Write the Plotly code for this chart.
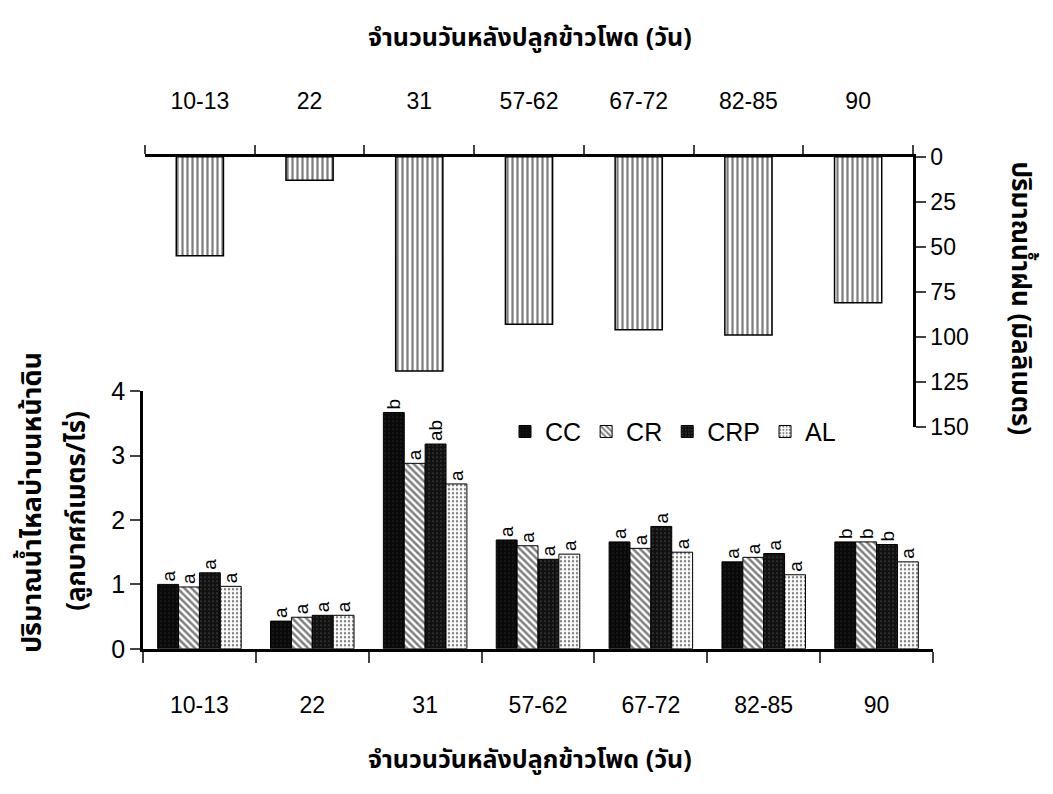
import plotly.graph_objects as go

categories = ["10-13", "22", "31", "57-62", "67-72", "82-85", "90"]
rain_mm = [55, 13, 119, 93, 96, 99, 81]
series_names = ["CC", "CR", "CRP", "AL"]
cc = [1.00, 0.43, 3.67, 1.69, 1.66, 1.35, 1.66]
cr = [0.96, 0.49, 2.88, 1.60, 1.56, 1.42, 1.66]
crp = [1.18, 0.52, 3.18, 1.39, 1.90, 1.48, 1.62]
al = [0.97, 0.52, 2.56, 1.47, 1.50, 1.15, 1.35]
letters_cc = ["a", "a", "b", "a", "a", "a", "b"]
letters_cr = ["a", "a", "a", "a", "a", "a", "b"]
letters_crp = ["a", "a", "ab", "a", "a", "a", "b"]
letters_al = ["a", "a", "a", "a", "a", "a", "a"]

W, H = 1053, 794
FONT = "Liberation Sans, Arial, sans-serif"
THAI = "Noto Sans Thai, Noto Sans, Liberation Sans, sans-serif"

def px(x):
    return x / W

def py(y):
    return 1 - y / H

fig = go.Figure()

# top rainfall bars
fig.add_trace(go.Bar(
    x=categories, y=rain_mm, xaxis="x2", yaxis="y2", width=0.43,
    marker=dict(color="white", line=dict(color="black", width=1.5),
                pattern=dict(shape="|", fgcolor="black", bgcolor="white", size=5, solidity=0.45)),
    showlegend=False,
))

styles = [
    dict(color="#0a0a0a", line=dict(color="black", width=1),
         pattern=dict(shape=".", fgcolor="#3a3a3a", bgcolor="#0a0a0a", size=4, solidity=0.15)),
    dict(color="white", line=dict(color="black", width=1),
         pattern=dict(shape="\\", fgcolor="black", bgcolor="white", size=5, solidity=0.5)),
    dict(color="#111111", line=dict(color="black", width=1),
         pattern=dict(shape=".", fgcolor="#555555", bgcolor="#111111", size=4, solidity=0.2)),
    dict(color="white", line=dict(color="black", width=1),
         pattern=dict(shape=".", fgcolor="black", bgcolor="white", size=4, solidity=0.3)),
]
vals = [cc, cr, crp, al]
lets = [letters_cc, letters_cr, letters_crp, letters_al]
for name, v, l, st in zip(series_names, vals, lets, styles):
    fig.add_trace(go.Bar(
        x=categories, y=v, name=name, marker=st,
        text=l, textposition="outside", textangle=-90,
        textfont=dict(family=FONT, size=19, color="black"),
        cliponaxis=False,
    ))

fig.update_layout(
    width=W, height=H, margin=dict(l=0, r=0, t=0, b=0),
    paper_bgcolor="white", plot_bgcolor="rgba(0,0,0,0)",
    barmode="group", bargap=0.26, bargroupgap=0,
    font=dict(family=FONT, size=23, color="black"),
    showlegend=True,
    legend=dict(orientation="h", x=px(505), y=py(433), xanchor="left", yanchor="middle",
                font=dict(family=FONT, size=25), bgcolor="rgba(0,0,0,0)",
                itemwidth=30, traceorder="normal"),
    xaxis=dict(domain=[px(143), px(933)], anchor="y", type="category",
               tickson="boundaries", ticks="outside", ticklen=11, tickwidth=2,
               showline=True, linecolor="black", linewidth=2.5, showgrid=False,
               ticklabelstandoff=34, tickfont=dict(size=23)),
    yaxis=dict(domain=[py(658), py(391)], anchor="x", range=[0, 4],
               tickvals=[0, 1, 2, 3, 4], ticks="outside", ticklen=10, tickwidth=2,
               showline=True, linecolor="black", linewidth=2.5, showgrid=False, zeroline=False,
               tickfont=dict(size=25)),
    xaxis2=dict(domain=[px(145), px(913)], anchor="y2", type="category", side="top",
                tickson="boundaries", ticks="outside", ticklen=9, tickwidth=2,
                showline=True, linecolor="black", linewidth=2.5, showgrid=False,
                ticklabelstandoff=36, tickfont=dict(size=23)),
    yaxis2=dict(domain=[py(428), py(148)], anchor="x2", side="right", range=[150, 0],
                tickvals=[0, 25, 50, 75, 100, 125, 150], ticks="outside", ticklen=10, tickwidth=2,
                showline=True, linecolor="black", linewidth=2.5, showgrid=False, zeroline=False,
                tickfont=dict(size=23)),
)

ann = [
    dict(text="<b>จำนวนวันหลังปลูกข้าวโพด (วัน)</b>", x=px(530), y=py(25), size=25),
    dict(text="<b>จำนวนวันหลังปลูกข้าวโพด (วัน)</b>", x=px(530), y=py(773), size=25),
    dict(text="<b>ปริมาณน้ำไหลบ่าบนหน้าดิน</b>", x=px(32), y=py(507), textangle=-90, size=27),
    dict(text="<b>(ลูกบาศก์เมตร/ไร่)</b>", x=px(77), y=py(515), textangle=-90, size=26),
    dict(text="<b>ปริมาณน้ำฝน (มิลลิเมตร)</b>", x=px(1020), y=py(295), textangle=90, size=26),
]
for a in ann:
    size = a.pop("size")
    fig.add_annotation(xref="paper", yref="paper", showarrow=False,
                       xanchor="center", yanchor="middle",
                       font=dict(family=THAI, size=size, color="black"), **a)

fig.write_html("out.html", config={"displayModeBar": False},
               post_script="document.body.style.margin='0';document.body.style.overflow='hidden';")
